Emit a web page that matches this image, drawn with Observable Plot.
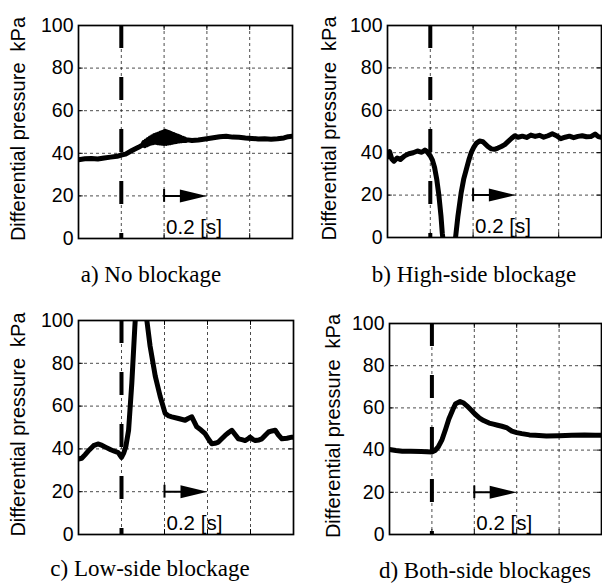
<!DOCTYPE html>
<html>
<head>
<meta charset="utf-8">
<script src="https://cdn.jsdelivr.net/npm/d3@7"></script>
<script src="https://cdn.jsdelivr.net/npm/@observablehq/plot@0.6"></script>
<style>
  html, body { margin: 0; padding: 0; background: white; }
  #fig { position: relative; width: 602px; height: 586px; background: white; overflow: hidden; }
  #fig svg { position: absolute; }
  .cap { position: absolute; width: 300px; text-align: center; font-family: "Liberation Serif", "Times New Roman", serif; font-size: 23px; line-height: 23px; color: black; white-space: nowrap; }
</style>
</head>
<body>
<div id="fig"></div>
<script>
// ---------- data (time in s, differential pressure in kPa) ----------
const yTitle = "Differential pressure\u00a0\u00a0kPa";
const captions = ["a) No blockage", "b) High-side blockage", "c) Low-side blockage", "d) Both-side blockages"];
const yTicks = [0, 20, 40, 60, 80, 100];
const xTicks = [0, 0.2, 0.4, 0.6, 0.8, 1];
const eventTime = 0.2;
const arrowStart = 0.4;
const arrowEnd = 0.6;
const arrowLevel = 20;
const scaleLabel = "0.2 [s]";

const timeA = [0,0.03,0.06,0.09,0.12,0.15,0.18,0.2,0.22,0.25,0.28,0.3,0.305,0.31,0.315,0.32,0.325,0.33,0.335,0.34,0.345,0.35,0.355,0.36,0.365,0.37,0.375,0.38,0.385,0.39,0.395,0.4,0.405,0.41,0.415,0.42,0.425,0.43,0.435,0.44,0.445,0.45,0.455,0.46,0.465,0.47,0.475,0.48,0.485,0.49,0.495,0.5,0.51,0.53,0.56,0.6,0.63,0.66,0.69,0.72,0.75,0.78,0.81,0.84,0.87,0.9,0.93,0.96,0.98,1];
const pressureA = [37,37.4,37.6,37.3,37.8,38.2,38.6,39.2,39.6,41.3,42.8,44,45,43.6,45.8,44,46.5,44.5,47.2,44.8,47.8,45,48.3,45.2,48.7,45,49.1,44.8,49.5,44.7,49.9,44.6,50.3,44.6,50,44.8,49.6,45,49.2,45.2,48.8,45.4,48.4,45.6,48,45.8,47.6,45.9,47.2,46,46.8,46,46.3,46,46.2,46.8,47.3,47.8,48,47.6,47.5,47.2,47,46.7,46.8,46.6,46.8,47.2,47.8,48];

const timeB = [0,0.01,0.02,0.03,0.045,0.06,0.08,0.1,0.12,0.14,0.16,0.175,0.185,0.2,0.21,0.22,0.23,0.24,0.25,0.256,0.262,0.314,0.318,0.329,0.344,0.356,0.368,0.38,0.391,0.403,0.415,0.43,0.446,0.458,0.469,0.485,0.5,0.516,0.532,0.548,0.563,0.58,0.595,0.61,0.63,0.65,0.67,0.69,0.71,0.73,0.75,0.77,0.79,0.81,0.83,0.85,0.87,0.89,0.91,0.93,0.95,0.97,0.985,1];
const pressureB = [38,40.5,37,36,37.5,36.8,38.5,39.5,40,40.8,40.2,41.2,40.5,38.5,36.5,33,27.5,20,10,2,-3,-3,0,10,21,27.5,32,36.5,40,42.5,44.4,45.5,45.2,44,42.9,41.8,41.6,42.2,42.9,43.8,45.2,46.8,48,47.3,47.8,47.2,48.3,47.7,48.2,47.3,48,48.9,48,46.6,47.3,47.8,47.1,47.7,48,47.5,47.6,48.8,47.6,47.2];

const timeC = [0,0.015,0.03,0.05,0.07,0.09,0.11,0.13,0.15,0.17,0.185,0.2,0.21,0.22,0.233,0.248,0.262,0.27,0.31,0.318,0.333,0.357,0.38,0.403,0.42,0.434,0.465,0.496,0.51,0.527,0.55,0.57,0.589,0.605,0.62,0.635,0.651,0.665,0.682,0.7,0.713,0.73,0.744,0.76,0.775,0.79,0.798,0.81,0.822,0.84,0.853,0.87,0.884,0.9,0.915,0.93,0.946,0.97,0.992,1];
const pressureC = [35.3,35.6,37.2,39.5,41.5,42.3,41.6,40.6,39.6,38.8,38.3,36,38,41,48.7,70.8,97,110,110,100,88,74,64.5,56.6,55.4,55,54.2,53.4,54.2,55,50.3,48.8,47.1,44.5,42.4,42.6,43.2,44.6,46.3,47.8,48.7,46.5,44.7,44.3,43.9,44.8,45.5,44.5,43.9,44.2,44.7,46.5,47.9,48.4,48.7,46.5,44.7,45,45.5,45.5];

const timeD = [0,0.03,0.06,0.1,0.15,0.2,0.215,0.23,0.248,0.265,0.28,0.3,0.312,0.333,0.35,0.365,0.385,0.404,0.425,0.444,0.47,0.49,0.51,0.53,0.555,0.577,0.6,0.624,0.66,0.687,0.74,0.8,0.86,0.92,0.97,1];
const pressureD = [40.3,39.8,39.5,39.4,39.3,39.1,39.8,41.5,45,50,54.7,59.5,62,63,62.3,61,59,57,55.2,54,52.8,52.3,51.8,51.3,50.5,49,48.3,47.8,47.2,47,46.7,46.8,47,47.1,47,47];

// ---------- layout (pixels) ----------
const layout = [
  {left: 0,   top: 0,   width: 301, height: 250, mt: 25, mb: 12, ml: 78, mr: 9, titleDx: -60, capCenter: 151, capTop: 263},
  {left: 301, top: 0,   width: 301, height: 250, mt: 25, mb: 13, ml: 86, mr: 1, titleDx: -58, capCenter: 474, capTop: 263},
  {left: 0,   top: 293, width: 301, height: 253, mt: 27, mb: 12, ml: 78, mr: 8, titleDx: -60, capCenter: 150, capTop: 557},
  {left: 301, top: 293, width: 301, height: 253, mt: 30, mb: 12, ml: 88, mr: 1, titleDx: -56, capCenter: 485, capTop: 559}
];

const series = [[timeA, pressureA], [timeB, pressureB], [timeC, pressureC], [timeD, pressureD]];

const arrowHead = {
  draw(context) {
    context.moveTo(0, 0);
    context.lineTo(-27, -6.5);
    context.lineTo(-27, 6.5);
    context.closePath();
  }
};

const fig = document.getElementById("fig");
const innerX = xTicks.slice(1, -1);
const innerY = yTicks.slice(1, -1);
const xMin = xTicks[0], xMax = xTicks[xTicks.length - 1];
const yMin = yTicks[0], yMax = yTicks[yTicks.length - 1];

series.forEach(([t, p], i) => {
  const L = layout[i];
  const data = d3.zip(t, p).map(([time, pressure]) => ({time, pressure}));
  const chart = Plot.plot({
    width: L.width,
    height: L.height,
    marginTop: L.mt, marginBottom: L.mb, marginLeft: L.ml, marginRight: L.mr,
    style: {fontFamily: "'Liberation Sans', Arial, sans-serif", fontSize: "19px", color: "black", background: "transparent", overflow: "visible"},
    x: {domain: [xMin, xMax], axis: null},
    y: {domain: [yMin, yMax], axis: null},
    marks: [
      Plot.gridX(innerX, {stroke: "#222", strokeOpacity: 0.9, strokeWidth: 0.9, strokeDasharray: "3,3"}),
      Plot.gridY(innerY, {stroke: "#222", strokeOpacity: 0.9, strokeWidth: 0.9, strokeDasharray: "3,3"}),
      // inward ticks (MATLAB style)
      Plot.ruleY(yTicks, {x1: xMin, x2: xMin + 0.022, stroke: "black", strokeWidth: 1}),
      Plot.ruleY(yTicks, {x1: xMax - 0.022, x2: xMax, stroke: "black", strokeWidth: 1}),
      Plot.ruleX(innerX, {y1: yMin, y2: yMin + 2.3, stroke: "black", strokeWidth: 1}),
      Plot.ruleX(innerX, {y1: yMax - 2.3, y2: yMax, stroke: "black", strokeWidth: 1}),
      Plot.axisY(yTicks, {tickSize: 0, tickPadding: 5, label: null, fontSize: 19.5}),
      Plot.text([yTitle], {text: d => d, frameAnchor: "left", rotate: -90, dx: L.titleDx, dy: -3, fontSize: 20, textAnchor: "middle", lineAnchor: "middle"}),
      Plot.ruleX([eventTime], {stroke: "black", strokeWidth: 4, strokeDasharray: "23,29"}),
      Plot.line(data, {x: "time", y: "pressure", stroke: "black", strokeWidth: 5, strokeLinejoin: "round", strokeLinecap: "round", clip: true, curve: "linear"}),
      Plot.frame({stroke: "black", strokeWidth: 1.7}),
      Plot.ruleY([arrowLevel], {x1: arrowStart, x2: arrowEnd - 0.05, stroke: "black", strokeWidth: 2}),
      Plot.ruleX([arrowStart], {y1: arrowLevel - 3, y2: arrowLevel + 3, stroke: "black", strokeWidth: 2}),
      Plot.dot([arrowEnd], {x: d => d, y: () => arrowLevel, symbol: arrowHead, fill: "black", stroke: null, r: 5}),
      Plot.text([scaleLabel], {text: d => d, x: () => arrowStart, y: () => yMin, dx: 2, dy: -5, textAnchor: "start", lineAnchor: "bottom", fontSize: 20.5})
    ]
  });
  chart.style.left = L.left + "px";
  chart.style.top = L.top + "px";
  fig.appendChild(chart);

  const cap = document.createElement("div");
  cap.className = "cap";
  cap.textContent = captions[i];
  cap.style.left = (L.capCenter - 150) + "px";
  cap.style.top = L.capTop + "px";
  fig.appendChild(cap);
});
</script>
</body>
</html>
